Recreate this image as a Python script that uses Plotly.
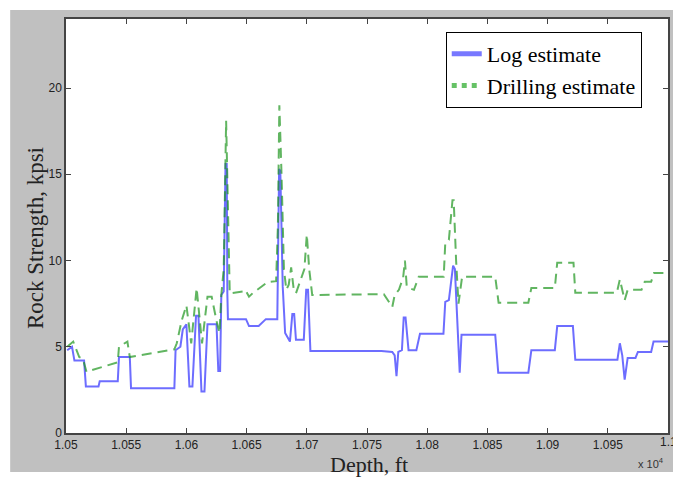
import plotly.graph_objects as go

# ---- data ----
log_depth = [10501, 10505, 10507, 10515, 10516.5, 10527, 10528, 10543, 10544, 10553, 10554,
             10590, 10591, 10595, 10597, 10600, 10602.5, 10605, 10608, 10610, 10612.5, 10615,
             10617.5, 10625, 10626.5, 10628, 10629, 10631, 10632.5, 10633.5, 10634, 10634.5,
             10649.5, 10652, 10660, 10666, 10675.5, 10677, 10678, 10680, 10682, 10684, 10686,
             10688, 10689.5, 10691, 10697.5, 10699.5, 10701, 10703, 10762, 10771, 10773,
             10774.5, 10776, 10779, 10780.5, 10782, 10784.5, 10791, 10794, 10813.5, 10815,
             10818, 10820, 10821.5, 10823, 10825, 10827, 10828.5, 10856.5, 10859, 10884,
             10886.5, 10906, 10908, 10921, 10923, 10958, 10960, 10962, 10964, 10966.5, 10973,
             10975, 10986, 10988, 11000]
log_val = [4.8, 5.0, 4.2, 4.2, 2.7, 2.7, 3.0, 3.0, 4.4, 4.4, 2.6,
           2.6, 4.8, 5.0, 6.0, 6.3, 2.7, 2.7, 6.8, 6.8, 2.4, 2.4,
           6.3, 6.3, 3.6, 3.6, 8.0, 8.2, 15.6, 15.6, 8.1, 6.6,
           6.6, 6.2, 6.2, 6.6, 6.6, 15.3, 15.2, 8.5, 5.8, 5.5, 5.3,
           6.9, 6.9, 5.4, 5.4, 8.3, 8.3, 4.75, 4.75, 4.7, 4.5,
           3.3, 4.7, 4.8, 6.7, 6.7, 4.8, 4.8, 5.75, 5.75, 7.6,
           7.7, 9.0, 9.7, 9.5, 6.0, 3.5, 5.7, 5.7, 3.5, 3.5,
           4.8, 4.8, 6.2, 6.2, 4.25, 4.25, 5.2, 4.5, 3.1, 4.35, 4.35,
           4.7, 4.7, 5.3, 5.3]

drill_depth = [10501, 10506, 10511, 10514, 10517, 10543, 10544, 10551, 10553, 10590,
               10592, 10596, 10600, 10604, 10608.5, 10613, 10617.5, 10621, 10625, 10627.5,
               10629, 10631, 10633, 10634.5, 10636, 10647, 10649, 10652, 10655, 10667.5,
               10674.5, 10676, 10677.2, 10679, 10681, 10683, 10685, 10687, 10689, 10691,
               10695, 10698, 10700, 10702, 10704.5, 10764, 10771, 10773, 10776.5, 10780,
               10781.5, 10783, 10785, 10789, 10793, 10813.7, 10815, 10818, 10821, 10822,
               10824, 10826, 10829, 10856.5, 10859.3, 10884, 10886.5, 10906, 10908, 10921.5,
               10923, 10957.5, 10960, 10964, 10966.5, 10978, 10980.7, 10986, 10988.4, 11000]
drill_val = [5.0, 5.3, 4.4, 4.3, 3.55, 4.1, 5.0, 5.3, 4.4, 4.85,
             5.2, 6.5, 7.4, 5.2, 8.4, 5.2, 7.9, 7.9, 6.5, 5.8,
             8.0, 9.5, 18.1, 12.0, 8.1, 8.2, 8.3, 7.9, 8.1, 8.75,
             8.8, 12.0, 19.0, 15.0, 9.5, 8.3, 8.6, 9.6, 8.4, 8.1,
             8.9, 9.5, 11.5, 9.5, 8.0, 8.05, 7.3, 8.0, 8.3, 9.0,
             10.0, 8.5, 8.4, 8.3, 9.06, 9.06, 11.0, 11.2, 13.5, 13.5,
             10.0, 7.5, 9.06, 9.06, 7.55, 7.55, 8.4, 8.4, 9.87, 9.87,
             8.13, 8.13, 8.9, 7.7, 8.3, 8.3, 8.77, 8.77, 9.27, 9.27]

x_tickvals = [10500, 10550, 10600, 10650, 10700, 10750, 10800, 10850, 10900, 10950, 11000]
x_ticktext = ["1.05", "1.055", "1.06", "1.065", "1.07", "1.075", "1.08", "1.085", "1.09", "1.095", "1.1"]
y_tickvals = [0, 5, 10, 15, 20]

serif = "Liberation Serif, Times New Roman, serif"
sans = "Liberation Sans, Arial, sans-serif"

fig = go.Figure()
fig.add_trace(go.Scatter(x=log_depth, y=log_val, mode="lines", showlegend=False,
                         line=dict(color="rgba(20,20,255,0.62)", width=2)))
fig.add_trace(go.Scatter(x=drill_depth, y=drill_val, mode="lines", showlegend=False,
                         line=dict(color="rgba(30,150,30,0.7)", width=2, dash="10px,6px")))
# legend entries
fig.add_trace(go.Scatter(x=[None], y=[None], mode="lines", name="Log estimate",
                         line=dict(color="#7878ff", width=5)))
fig.add_trace(go.Scatter(x=[None], y=[None], mode="lines", name="Drilling estimate",
                         line=dict(color="#66c266", width=5, dash="dot")))

W, H = 673, 481
L, R, T, B = 66, 3, 19, 48
pw, ph = W - L - R, H - T - B

def px(x):
    return (x - L) / pw

def py(y):
    return (H - B - y) / ph

fig.update_layout(
    width=W, height=H,
    margin=dict(l=L, r=R, t=T, b=B),
    paper_bgcolor="#c0c0c0",
    plot_bgcolor="white",
    font=dict(family=sans, size=12, color="#222"),
    legend=dict(x=px(447), y=py(32), xanchor="left", yanchor="top",
                bgcolor="white", bordercolor="black", borderwidth=1,
                font=dict(family=serif, size=22, color="black"),
                tracegroupgap=0, itemwidth=30),
    shapes=[
        dict(type="rect", xref="paper", yref="paper", x0=px(-5), x1=px(680), y0=py(-5), y1=py(10),
             fillcolor="white", line=dict(width=0), layer="below"),
        dict(type="rect", xref="paper", yref="paper", x0=px(-5), x1=px(10), y0=py(-5), y1=py(490),
             fillcolor="white", line=dict(width=0), layer="below"),
        dict(type="rect", xref="paper", yref="paper", x0=px(-5), x1=px(680), y0=py(472), y1=py(490),
             fillcolor="white", line=dict(width=0), layer="below"),
    ],
    annotations=[
        dict(text="Depth, ft", xref="paper", yref="paper", x=px(370), y=py(465),
             xanchor="center", yanchor="middle", showarrow=False,
             font=dict(family=serif, size=22, color="#222")),
        dict(text="Rock Strength, kpsi", xref="paper", yref="paper", x=px(35), y=py(238),
             xanchor="center", yanchor="middle", showarrow=False, textangle=-90,
             font=dict(family=serif, size=23, color="#222")),
        dict(text="x 10<sup>4</sup>", xref="paper", yref="paper", x=px(653), y=py(463),
             xanchor="center", yanchor="middle", showarrow=False,
             font=dict(family=sans, size=11, color="#333")),
        dict(text=x_ticktext[-1], x=x_tickvals[-1], xref="x", yref="paper", y=py(442),
             xanchor="center", yanchor="middle", showarrow=False,
             font=dict(family=sans, size=12, color="#222")),
    ],
)
fig.update_xaxes(range=[10500, 11000], tickvals=x_tickvals, ticktext=x_ticktext,
                 ticks="inside", ticklen=5, tickcolor="#444", showline=True, linecolor="#444",
                 linewidth=1.5, mirror="ticks", showgrid=False, zeroline=False,
                 tickfont=dict(family=sans, size=12, color="#222"))
fig.update_yaxes(range=[0, 24], tickvals=y_tickvals,
                 ticks="inside", ticklen=5, tickcolor="#444", showline=True, linecolor="#444",
                 linewidth=1.5, mirror="ticks", showgrid=False, zeroline=False,
                 tickfont=dict(family=sans, size=12, color="#222"))

fig.write_html("out.html", post_script="document.body.style.margin='0px';",
               config={"displayModeBar": False})
